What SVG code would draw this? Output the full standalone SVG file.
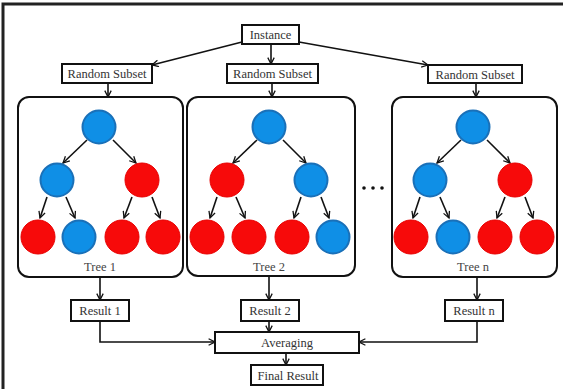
<svg xmlns="http://www.w3.org/2000/svg" width="563" height="389" viewBox="0 0 563 389">
<defs>
<style>
.box{fill:#fff;stroke:#111;stroke-width:2}
.tree{fill:#fff;stroke:#111;stroke-width:2}
.lbl{font-family:"Liberation Serif","Times New Roman",serif;font-size:12.5px;fill:#333;text-anchor:middle}
.tl{font-family:"Liberation Serif","Times New Roman",serif;font-size:12.5px;fill:#444;text-anchor:middle}
.ln{fill:none;stroke:#111;stroke-width:1.6}
.blue{fill:#0f8fe6;stroke:#1a70b8;stroke-width:2}
.red{fill:#f70a0a;stroke:#e80000;stroke-width:1}
</style>
<marker id="ah" viewBox="0 0 10 10" refX="9" refY="5" markerWidth="8" markerHeight="8" orient="auto" markerUnits="userSpaceOnUse">
<path d="M1,1 L9,5 L1,9" fill="none" stroke="#111" stroke-width="1.6"/>
</marker>
</defs>
<rect width="563" height="389" fill="#fff"/>
<path d="M3,389 L3,4 L563,4" fill="none" stroke="#222" stroke-width="3"/>

<g id="connectors">
<path class="ln" d="M242,42 L152,65" marker-end="url(#ah)"/>
<path class="ln" d="M271,44 L271,64" marker-end="url(#ah)"/>
<path class="ln" d="M299,42 L428,65" marker-end="url(#ah)"/>
<path class="ln" d="M108,83 L108,97" marker-end="url(#ah)"/>
<path class="ln" d="M272,83 L272,97" marker-end="url(#ah)"/>
<path class="ln" d="M476,83 L476,97" marker-end="url(#ah)"/>
<path class="ln" d="M100,277 L100,300" marker-end="url(#ah)"/>
<path class="ln" d="M269,276 L269,300" marker-end="url(#ah)"/>
<path class="ln" d="M477,277 L477,300" marker-end="url(#ah)"/>
<path class="ln" d="M100,321 L100,342 L215,342" marker-end="url(#ah)"/>
<path class="ln" d="M269,321 L269,332" marker-end="url(#ah)"/>
<path class="ln" d="M477,321 L477,342 L359,342" marker-end="url(#ah)"/>
<path class="ln" d="M286,353 L286,365" marker-end="url(#ah)"/>
</g>

<g id="instance"><rect class="box" x="242" y="25" width="57" height="19"/><text class="lbl" x="270.5" y="39">Instance</text></g>
<g id="subset1"><rect class="box" x="62" y="64" width="90" height="19"/><text class="lbl" x="107" y="78">Random Subset</text></g>
<g id="subset2"><rect class="box" x="227" y="64" width="91" height="19"/><text class="lbl" x="272.5" y="78">Random Subset</text></g>
<g id="subsetn"><rect class="box" x="428" y="65" width="94" height="18"/><text class="lbl" x="475" y="78.5">Random Subset</text></g>

<g id="tree1">
<rect class="tree" x="18" y="97" width="165" height="180" rx="11"/>
<g class="ln">
<path d="M87,140 L63,163" marker-end="url(#ah)"/><path d="M113,140 L136,163" marker-end="url(#ah)"/>
<path d="M47,197 L40,218" marker-end="url(#ah)"/><path d="M66,197 L75,218" marker-end="url(#ah)"/>
<path d="M132,197 L124,218" marker-end="url(#ah)"/><path d="M152,197 L160,218" marker-end="url(#ah)"/>
</g>
<circle class="blue" cx="99" cy="127" r="16.5"/>
<circle class="blue" cx="57" cy="180" r="16.5"/>
<circle class="red" cx="142" cy="180" r="17"/>
<circle class="red" cx="38" cy="237" r="17"/>
<circle class="blue" cx="79" cy="237" r="16.5"/>
<circle class="red" cx="122" cy="237" r="17"/>
<circle class="red" cx="163" cy="237" r="17"/>
<text class="tl" x="100" y="271">Tree 1</text>
</g>

<g id="tree2">
<rect class="tree" x="187" y="97" width="168" height="179" rx="11"/>
<g class="ln">
<path d="M257,140 L233,163" marker-end="url(#ah)"/><path d="M283,140 L306,163" marker-end="url(#ah)"/>
<path d="M217,197 L210,218" marker-end="url(#ah)"/><path d="M236,197 L245,218" marker-end="url(#ah)"/>
<path d="M301,197 L294,218" marker-end="url(#ah)"/><path d="M321,197 L329,218" marker-end="url(#ah)"/>
</g>
<circle class="blue" cx="269" cy="127" r="16.5"/>
<circle class="red" cx="227" cy="180" r="17"/>
<circle class="blue" cx="311" cy="180" r="16.5"/>
<circle class="red" cx="207" cy="237" r="17"/>
<circle class="red" cx="249" cy="237" r="17"/>
<circle class="red" cx="292" cy="237" r="17"/>
<circle class="blue" cx="333" cy="237" r="16.5"/>
<text class="tl" x="269" y="271">Tree 2</text>
</g>

<g id="dots">
<circle cx="364" cy="188" r="1.8" fill="#111"/>
<circle cx="373" cy="188" r="1.8" fill="#111"/>
<circle cx="382" cy="188" r="1.8" fill="#111"/>
</g>

<g id="treen">
<rect class="tree" x="392" y="97" width="165" height="180" rx="11"/>
<g class="ln">
<path d="M461,140 L437,163" marker-end="url(#ah)"/><path d="M487,140 L510,163" marker-end="url(#ah)"/>
<path d="M420,197 L413,218" marker-end="url(#ah)"/><path d="M440,197 L449,218" marker-end="url(#ah)"/>
<path d="M505,197 L497,218" marker-end="url(#ah)"/><path d="M525,197 L533,218" marker-end="url(#ah)"/>
</g>
<circle class="blue" cx="473" cy="127" r="16.5"/>
<circle class="blue" cx="430" cy="180" r="16.5"/>
<circle class="red" cx="515" cy="180" r="17"/>
<circle class="red" cx="411" cy="237" r="17"/>
<circle class="blue" cx="453" cy="237" r="16.5"/>
<circle class="red" cx="495" cy="237" r="17"/>
<circle class="red" cx="537" cy="237" r="17"/>
<text class="tl" x="473" y="271">Tree n</text>
</g>

<g id="result1"><rect class="box" x="71" y="300" width="58" height="21"/><text class="lbl" x="100" y="315">Result 1</text></g>
<g id="result2"><rect class="box" x="241" y="300" width="58" height="21"/><text class="lbl" x="270" y="315">Result 2</text></g>
<g id="resultn"><rect class="box" x="445" y="300" width="58" height="21"/><text class="lbl" x="474" y="315">Result n</text></g>
<g id="averaging"><rect class="box" x="215" y="332" width="144" height="21"/><text class="lbl" x="287" y="346.5">Averaging</text></g>
<g id="final"><rect class="box" x="251" y="365" width="72" height="20"/><text class="lbl" x="288" y="379.5">Final Result</text></g>
</svg>
